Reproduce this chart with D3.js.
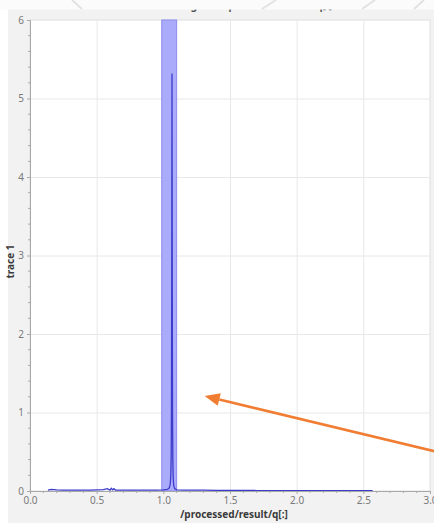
<!DOCTYPE html>
<html>
<head>
<meta charset="utf-8">
<script src="https://cdn.jsdelivr.net/npm/d3@7"></script>
<style>
  html, body { margin: 0; padding: 0; background: #ffffff; }
  svg { display: block; }
</style>
</head>
<body>
<svg id="chart" width="434" height="523"></svg>
<script>
// Scattering trace: intensity against q
const qValues = [
  0.135, 0.16, 0.2, 0.25, 0.3, 0.35, 0.4, 0.45, 0.5, 0.55, 0.58, 0.6, 0.61, 0.62, 0.63, 0.64, 0.66,
  0.7, 0.75, 0.8, 0.85, 0.9, 0.95, 1.0, 1.03, 1.045, 1.052, 1.056, 1.059, 1.061, 1.063, 1.064,
  1.065, 1.066, 1.067, 1.069, 1.071, 1.074, 1.078, 1.085, 1.1, 1.15, 1.2, 1.3, 1.4, 1.5, 1.6,
  1.7, 1.8, 1.9, 2.0, 2.1, 2.2, 2.3, 2.4, 2.5, 2.57
];
const traceValues = [
  0.01, 0.02, 0.015, 0.012, 0.01, 0.012, 0.01, 0.012, 0.015, 0.018, 0.03, 0.012, 0.035, 0.015, 0.03, 0.012, 0.01,
  0.01, 0.01, 0.012, 0.01, 0.012, 0.012, 0.015, 0.02, 0.04, 0.09, 0.2, 0.45, 1.1, 2.8, 4.3,
  5.32, 4.1, 2.6, 1.0, 0.42, 0.16, 0.07, 0.03, 0.015, 0.012, 0.01, 0.01, 0.008, 0.008, 0.008,
  0.006, 0.006, 0.006, 0.005, 0.005, 0.005, 0.005, 0.004, 0.004, 0.004
];

// Highlighted q range
const regionRange = [0.988, 1.1];

// Axes
const xDomain = [0, 3];
const yDomain = [0, 6];
const xTickValues = [0, 0.5, 1.0, 1.5, 2.0, 2.5, 3.0];
const yTickValues = [0, 1, 2, 3, 4, 5, 6];
const titleText = "trace 1 against /processed/result/q[:]";
const xLabel = "/processed/result/q[:]";
const yLabel = "trace 1";

// Annotation arrow, in data units
const arrowFrom = [3.1, 0.48];
const arrowTo = [1.31, 1.21];

const svg = d3.select("#chart");
const W = 434, H = 523;
const plot = { left: 30, right: 430, top: 20, bottom: 491 };

const x = d3.scaleLinear().domain(xDomain).range([plot.left, plot.right]);
const y = d3.scaleLinear().domain(yDomain).range([plot.bottom, plot.top]);

// Window background
svg.append("rect").attr("x", 0).attr("y", 0).attr("width", W).attr("height", H).attr("fill", "#ffffff");
svg.append("rect").attr("x", 8).attr("y", 9).attr("width", W - 8).attr("height", H - 9).attr("fill", "#f2f2f2");

// Title: only its lowest strokes show below the top strip
svg.append("text")
  .attr("x", 240).attr("y", 8.6)
  .attr("text-anchor", "middle")
  .attr("font-family", "Noto Sans, sans-serif")
  .attr("font-size", 10).attr("font-weight", "bold")
  .attr("fill", "#555")
  .text(titleText);
svg.append("rect").attr("x", 0).attr("y", 0).attr("width", W).attr("height", 9.6).attr("fill", "#fbfbfb");
// faint diagonal strokes in the top strip
[[72, 0, 82, 9], [262, 9, 276, 0], [362, 9, 375, 0], [414, 9, 424, 0]].forEach(s => {
  svg.append("line").attr("x1", s[0]).attr("y1", s[1]).attr("x2", s[2]).attr("y2", s[3])
    .attr("stroke", "#e2e2e2").attr("stroke-width", 2);
});

// Plot area
svg.append("rect")
  .attr("x", plot.left).attr("y", plot.top)
  .attr("width", plot.right - plot.left).attr("height", plot.bottom - plot.top)
  .attr("fill", "#ffffff").attr("stroke", "#dedede").attr("stroke-width", 1);

// Grid
const grid = svg.append("g").attr("stroke", "#e8e8e8").attr("stroke-width", 1);
xTickValues.slice(1, -1).forEach(v => {
  grid.append("line").attr("x1", x(v) + 0.5).attr("x2", x(v) + 0.5).attr("y1", plot.top).attr("y2", plot.bottom);
});
yTickValues.slice(1, -1).forEach(v => {
  grid.append("line").attr("x1", plot.left).attr("x2", plot.right).attr("y1", y(v) + 0.5).attr("y2", y(v) + 0.5);
});

// Highlighted region
svg.append("rect")
  .attr("x", x(regionRange[0])).attr("y", plot.top)
  .attr("width", x(regionRange[1]) - x(regionRange[0]))
  .attr("height", plot.bottom - plot.top)
  .attr("fill", "#ababfb").attr("stroke", "#8c8cee").attr("stroke-width", 1);

// Trace line
const lineData = qValues.map((q, i) => [q, traceValues[i]]);
svg.append("path")
  .datum(lineData)
  .attr("fill", "none")
  .attr("stroke", "#3c3ccc")
  .attr("stroke-width", 1.3)
  .attr("d", d3.line().x(d => x(d[0])).y(d => y(d[1])));

// Y axis
const yAxis = d3.axisLeft(y).tickValues(yTickValues).tickFormat(d3.format("d")).tickSize(3).tickPadding(3);
const gy = svg.append("g").attr("transform", `translate(${plot.left},0)`).call(yAxis);
const yMinor = d3.range(0, 6.001, 0.2).filter(v => Math.abs(v - Math.round(v)) > 1e-6);
yMinor.forEach(v => {
  gy.append("line").attr("x1", 0).attr("x2", -2).attr("y1", y(v)).attr("y2", y(v)).attr("stroke", "#aaa");
});

// X axis
const xAxis = d3.axisBottom(x).tickValues(xTickValues).tickFormat(d3.format(".1f")).tickSize(3).tickPadding(3);
const gx = svg.append("g").attr("transform", `translate(0,${plot.bottom})`).call(xAxis);
const xMinor = d3.range(0, 3.001, 0.1).filter(v => Math.abs(v * 2 - Math.round(v * 2)) > 1e-6);
xMinor.forEach(v => {
  gx.append("line").attr("x1", x(v)).attr("x2", x(v)).attr("y1", 0).attr("y2", 2).attr("stroke", "#aaa");
});

[gx, gy].forEach(g => {
  g.select(".domain").attr("stroke", "#a8a8a8");
  g.selectAll(".tick line").attr("stroke", "#a8a8a8");
  g.selectAll("text")
    .attr("font-family", "Noto Sans, sans-serif")
    .attr("font-size", 10)
    .attr("fill", "#7a7a7a");
});

// Axis titles
svg.append("text")
  .attr("x", 234).attr("y", 518)
  .attr("text-anchor", "middle")
  .attr("font-family", "Noto Sans, sans-serif")
  .attr("font-size", 10).attr("font-weight", "bold")
  .attr("fill", "#3a3a3a")
  .text(xLabel);
svg.append("text")
  .attr("transform", `translate(14,${(plot.top + plot.bottom) / 2 + 6}) rotate(-90)`)
  .attr("text-anchor", "middle")
  .attr("font-family", "Noto Sans, sans-serif")
  .attr("font-size", 10).attr("font-weight", "bold")
  .attr("fill", "#3a3a3a")
  .text(yLabel);

// Annotation arrow
const ax0 = x(arrowFrom[0]), ay0 = y(arrowFrom[1]);
const ax1 = x(arrowTo[0]), ay1 = y(arrowTo[1]);
const ang = Math.atan2(ay1 - ay0, ax1 - ax0);
const headLen = 15, headHalf = 6.5;
const bx = ax1 - headLen * Math.cos(ang), by = ay1 - headLen * Math.sin(ang);
svg.append("line")
  .attr("x1", ax0).attr("y1", ay0).attr("x2", bx).attr("y2", by)
  .attr("stroke", "#f07d32").attr("stroke-width", 2.6);
svg.append("path")
  .attr("d", `M${ax1},${ay1}L${bx + headHalf * Math.sin(ang)},${by - headHalf * Math.cos(ang)}L${bx - headHalf * Math.sin(ang)},${by + headHalf * Math.cos(ang)}Z`)
  .attr("fill", "#f07d32");
</script>
</body>
</html>
